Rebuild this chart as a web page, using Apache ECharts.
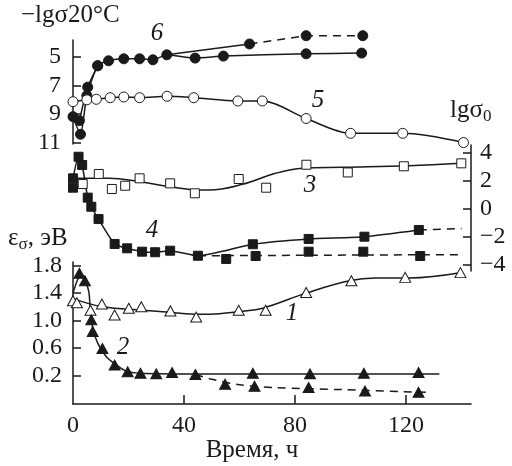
<!DOCTYPE html>
<html><head><meta charset="utf-8">
<script src="https://cdn.jsdelivr.net/npm/echarts@6/dist/echarts.min.js"></script>
<style>html,body{margin:0;padding:0;background:#fff}#c{width:512px;height:466px}</style>
</head><body><div id="c"></div>
<script>
// ---- tick labels ----
const xLabels = [0, 40, 80, 120];
const xTickMarks = [40, 80, 120];
const topTicks = [5, 7, 9, 11];
const midTicks = [-4, -2, 0, 2, 4];
const botTicks = [0.2, 0.6, 1.0, 1.4, 1.8];

// ---- top panel: -lg sigma(20 C) ----
const s6Main = [[0,9.18],[2.7,10.42],[5.0,7.7],[8.9,5.61],[12.8,5.26],[18.3,5.12],[24,5.12],[28.8,5.19],[33.8,4.84],[44,5.07],[54.2,4.93],[84,4.77],[104,4.72]];
const s6Alt = [[2.3,9.46],[5.3,7.11],[8.9,5.61]];
const s6Upper = [[33.8,4.84],[63.6,4.08]];
const s6Dash = [[63.6,4.08],[84,3.5],[104.4,3.5]];
const s5 = [[0,8.13],[5,8.0],[8.4,7.96],[13.4,7.85],[18.3,7.8],[24,7.85],[33.9,7.75],[43.5,7.85],[59.4,8.08],[68.2,8.08],[84,9.31],[100,10.35],[118.8,10.35],[140.7,11.0]];

// ---- middle panel: lg sigma0 ----
const s3Fit = [[0,2.17],[13,2.17],[24,1.93],[35,1.57],[45.5,1.34],[49,1.34],[61,1.74],[73,2.53],[82.8,2.89],[97.2,2.96],[121,3.07],[140,3.24]];
const s3Pts = [[3.5,1.76],[9.3,2.48],[14,1.41],[18.8,1.64],[24,2.17],[35,1.81],[43.9,1.1],[59.7,2.12],[69.6,1.5],[84.1,3.14],[99,2.59],[119.2,3.03],[139.9,3.24]];
const s4Main = [[0,2.17],[2,3.71],[3.3,3.12],[5.3,0.79],[6.6,0.14],[9.2,-0.74],[15,-2.52],[19.5,-2.83],[24.9,-3.07],[29.6,-3.11],[35,-3.0],[45,-3.36],[64.8,-2.54],[84.9,-2.16],[105,-2.0],[124.6,-1.52]];
const s4Extra = [[0,1.5]];
const s4Ext = [[124.6,-1.52],[140,-1.42]];
const s4DashFit = [[45,-3.36],[140,-3.28]];
const s4DashPts = [[55.2,-3.59],[65.8,-3.38],[84.9,-3.07],[104.6,-3.07],[125.1,-3.38]];

// ---- bottom panel: eps sigma, eV ----
const s1Fit = [[0,1.32],[10.8,1.2],[25.2,1.15],[34.8,1.12],[45.6,1.09],[52.8,1.1],[60,1.13],[68.4,1.18],[84,1.4],[99.6,1.58],[109,1.62],[121,1.62],[140,1.7]];
const s1Pts = [[0,1.29],[1.4,1.26],[6.3,1.15],[10.4,1.24],[15,1.08],[20.1,1.18],[24.6,1.2],[35.1,1.14],[44.4,1.05],[59.7,1.15],[69.4,1.15],[84,1.41],[100.3,1.58],[119.7,1.63],[139.6,1.7]];
const s2Fit = [[0,1.4],[1.7,1.6],[2.95,1.65],[4.3,1.6],[5.7,1.42],[6.2,1.18],[7.1,0.89],[8.9,0.67],[12,0.47],[15.6,0.35],[19.2,0.26],[24,0.23],[45,0.22],[85,0.22],[132,0.22]];
const s2Pts = [[2.3,1.69],[4.3,1.58],[6.6,1.01],[7.1,0.84],[10.6,0.59],[15,0.35],[19.7,0.25],[24.3,0.23],[30,0.22],[35.7,0.24],[44.1,0.21],[64.8,0.23],[85.4,0.22],[104.8,0.23],[124.5,0.24]];
const s2DashFit = [[44,0.21],[49.3,0.15],[60,0.06],[73,0.02],[97,-0.01],[119,-0.04],[129.2,-0.05]];
const s2DashPts = [[54.8,0.07],[65.4,0.04],[84.9,0.02],[105.2,-0.03],[124.5,-0.05]];

const FF = '"Liberation Serif","Times New Roman",serif';
const INK = '#1a1a1a';
const chart = echarts.init(document.getElementById('c'), null, {renderer:'canvas'});

function ln(g, data, opt) {
  opt = opt || {};
  return {type:'line', xAxisIndex:g, yAxisIndex:g, data, symbol:'none', clip:false,
    smooth: opt.smooth === undefined ? 0.3 : opt.smooth, z:2,
    lineStyle:{color:INK, width:1.5, type: opt.dash ? [8,6] : 'solid'}, animation:false};
}
function pts(g, data, symbol, filled, size) {
  return {type:'scatter', xAxisIndex:g, yAxisIndex:g, data, symbol, symbolSize:size, clip:false, z:5,
    itemStyle:{color: filled ? INK : '#fff', borderColor:INK, borderWidth:1, opacity:1}, animation:false};
}
const grids = [
  {left:73, width:398, top:40, height:104},
  {left:73, width:398, top:145, height:126},
  {left:73, width:398, top:262, height:142}
];
function xa(g, show) {
  return {type:'value', gridIndex:g, min:0, max:143.4, show: show,
    axisLine:{show:true, onZero:false, lineStyle:{color:INK, width:1.5}},
    axisTick:{show:true, inside:true, length:9, customValues:xTickMarks, lineStyle:{color:INK, width:1.5}},
    axisLabel:{show:true, customValues:xLabels, margin:10, fontFamily:FF, fontSize:24, color:INK},
    splitLine:{show:false}};
}
const yCommon = (lab) => ({
  type:'value', axisLine:{show:true, onZero:false, lineStyle:{color:INK, width:1.5}},
  splitLine:{show:false}
});
const option = {
  animation:false,
  backgroundColor:'#fff',
  grid: grids,
  xAxis: [xa(0,false), xa(1,false), xa(2,true)],
  yAxis: [
    Object.assign(yCommon(), {gridIndex:0, inverse:true, min:3.8, max:11.1,
      axisTick:{show:true, inside:true, length:8, customValues:topTicks, lineStyle:{color:INK, width:1.5}},
      axisLabel:{customValues:topTicks, margin:12, fontFamily:FF, fontSize:24, color:INK}}),
    Object.assign(yCommon(), {gridIndex:1, position:'right', min:-4.45, max:4.55,
      axisTick:{show:true, inside:true, length:8, customValues:midTicks, lineStyle:{color:INK, width:1.5}},
      axisLabel:{customValues:midTicks, margin:9, fontFamily:FF, fontSize:24, color:INK,
        formatter:v => (v < 0 ? '\u2212' + Math.abs(v) : String(v))}}),
    Object.assign(yCommon(), {gridIndex:2, min:-0.22, max:1.855,
      axisTick:{show:true, inside:true, length:8, customValues:botTicks, lineStyle:{color:INK, width:1.5}},
      axisLabel:{customValues:botTicks, margin:11, fontFamily:FF, fontSize:24, color:INK,
        formatter:v => v.toFixed(1)}})
  ],
  series: [
    ln(0, s6Main, {smooth:0.2}), ln(0, s6Alt, {smooth:0.2}), ln(0, s6Upper, {smooth:0}), ln(0, s6Dash, {smooth:0, dash:true}),
    pts(0, s6Main, 'circle', true, 10), pts(0, s6Alt, 'circle', true, 10), pts(0, s6Dash, 'circle', true, 10),
    ln(0, s5, {smooth:0.3}), pts(0, s5, 'circle', false, 10),

    ln(1, s3Fit, {smooth:0.4}), pts(1, s3Pts, 'rect', false, 9),
    ln(1, s4Main, {smooth:0.2}), ln(1, s4Ext, {smooth:0, dash:true}), ln(1, s4DashFit, {smooth:0, dash:true}),
    pts(1, s4Main, 'rect', true, 9), pts(1, s4Extra, 'rect', true, 9), pts(1, s4DashPts, 'rect', true, 9),

    ln(2, s1Fit, {smooth:0.4}), pts(2, s1Pts, 'triangle', false, [11,10]),
    ln(2, s2Fit, {smooth:0.3}), ln(2, s2DashFit, {smooth:0.3, dash:true}),
    pts(2, s2Pts, 'triangle', true, [11,10]), pts(2, s2DashPts, 'triangle', true, [11,10])
  ],
  graphic: [
    {type:'text', x:21, y:15, style:{text:'\u2212lg\u03c320\u00b0C', font:'25px ' + FF, fill:INK, textAlign:'left', textVerticalAlign:'middle', align:'left', verticalAlign:'middle'}},
    {type:'text', x:450, y:110, style:{text:'{a|lg\u03c3}{b|0}', fill:INK, textAlign:'left', textVerticalAlign:'middle', align:'left', verticalAlign:'middle',
      rich:{a:{fontFamily:FF, fontSize:25, fill:INK}, b:{fontFamily:FF, fontSize:17, fill:INK, padding:[14,0,0,0]}}}},
    {type:'text', x:8, y:238, style:{text:'{a|\u03b5}{b|\u03c3}{a|, \u044d\u0412}', fill:INK, textAlign:'left', textVerticalAlign:'middle', align:'left', verticalAlign:'middle',
      rich:{a:{fontFamily:FF, fontSize:25, fill:INK}, b:{fontFamily:FF, fontSize:17, fill:INK, padding:[14,0,0,0]}}}},
    {type:'text', x:252, y:450, style:{text:'\u0412\u0440\u0435\u043c\u044f, \u0447', font:'25px ' + FF, fill:INK, textAlign:'center', textVerticalAlign:'middle', align:'center', verticalAlign:'middle'}},
    {type:'text', x:157, y:33, style:{text:'6', font:'italic 25px ' + FF, fill:INK, textAlign:'center', textVerticalAlign:'middle', align:'center', verticalAlign:'middle'}},
    {type:'text', x:318, y:100, style:{text:'5', font:'italic 25px ' + FF, fill:INK, textAlign:'center', textVerticalAlign:'middle', align:'center', verticalAlign:'middle'}},
    {type:'text', x:310, y:185, style:{text:'3', font:'italic 25px ' + FF, fill:INK, textAlign:'center', textVerticalAlign:'middle', align:'center', verticalAlign:'middle'}},
    {type:'text', x:152, y:230, style:{text:'4', font:'italic 25px ' + FF, fill:INK, textAlign:'center', textVerticalAlign:'middle', align:'center', verticalAlign:'middle'}},
    {type:'text', x:292, y:313, style:{text:'1', font:'italic 25px ' + FF, fill:INK, textAlign:'center', textVerticalAlign:'middle', align:'center', verticalAlign:'middle'}},
    {type:'text', x:123, y:347, style:{text:'2', font:'italic 25px ' + FF, fill:INK, textAlign:'center', textVerticalAlign:'middle', align:'center', verticalAlign:'middle'}}
  ]
};
chart.setOption(option);
</script></body></html>
